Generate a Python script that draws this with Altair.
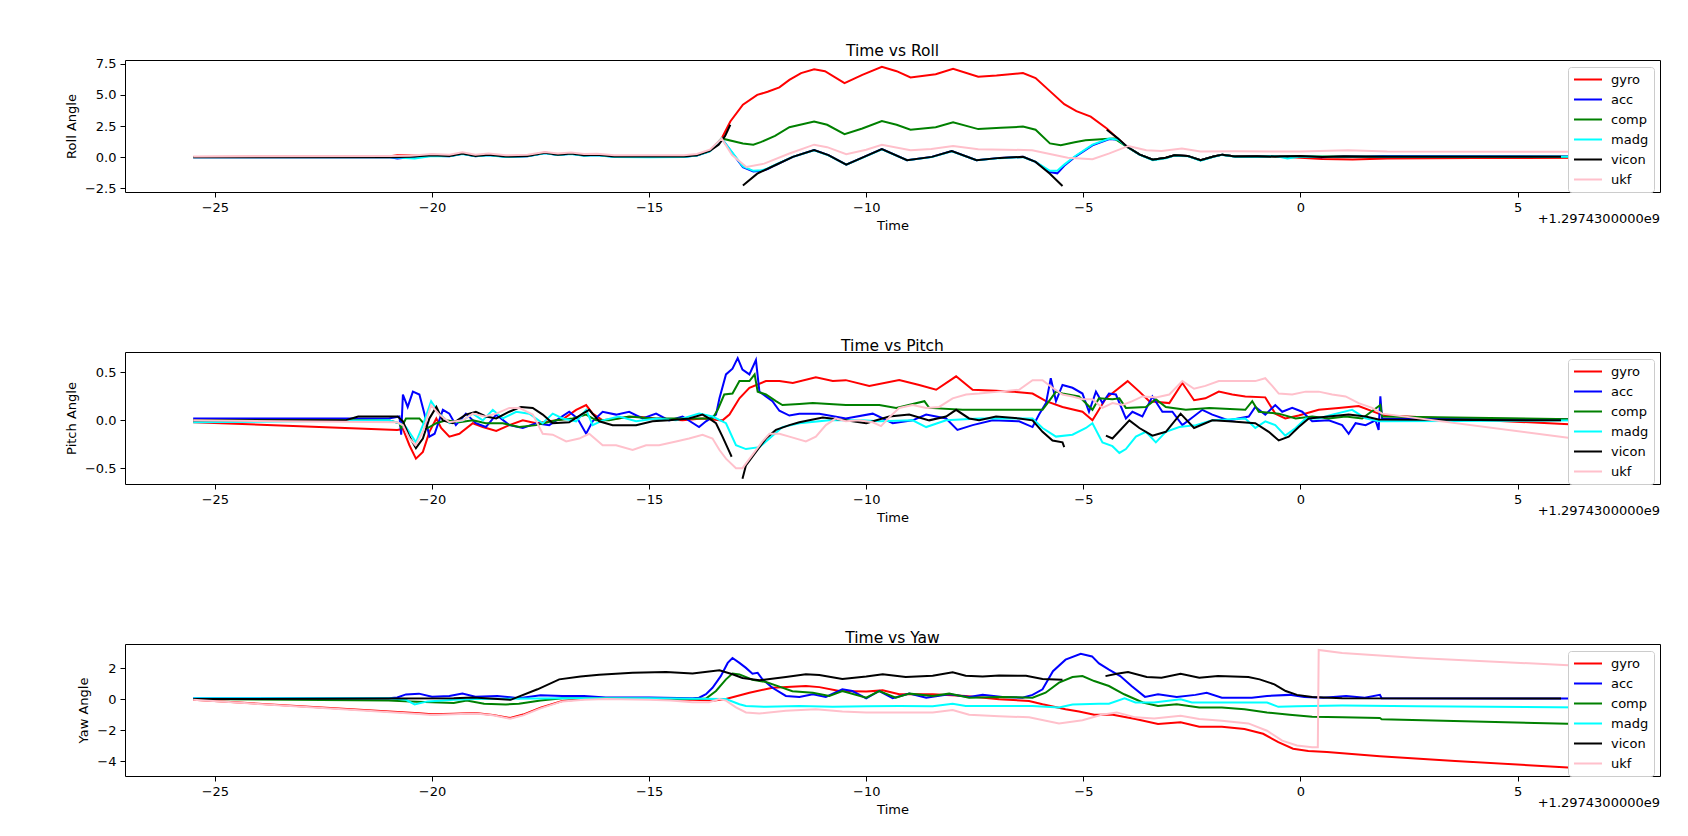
import altair as alt
import pandas as pd

FONT = "DejaVu Sans"
SERIES = ["gyro", "acc", "comp", "madg", "vicon", "ukf"]
COLORS = ["red", "blue", "green", "cyan", "black", "pink"]
X_TICKS = [-25, -20, -15, -10, -5, 0, 5]
X_DOMAIN = [-27.07, 8.28]
OFFSET_LABEL = "+1.2974300000e9"

ROLL_TICKS = [-2.5, 0.0, 2.5, 5.0, 7.5]
ROLL_DOMAIN = [-2.8, 7.8]
PITCH_TICKS = [-0.5, 0.0, 0.5]
PITCH_DOMAIN = [-0.665, 0.714]
YAW_TICKS = [-4, -2, 0, 2]
YAW_DOMAIN = [-4.96, 3.55]

# ---------------- ROLL ----------------
ROLL_GYRO = [[(-25.5, 0.02), (-21.0, 0.05), (-20.8, 0.15), (-20.3, 0.12), (-20.0, 0.2), (-19.6, 0.12), (-19.3, 0.32),
              (-19.0, 0.12), (-18.7, 0.22), (-18.3, 0.07), (-17.8, 0.12), (-17.4, 0.37), (-17.1, 0.22), (-16.8, 0.32),
              (-16.5, 0.17), (-16.2, 0.22), (-15.8, 0.07), (-15.0, 0.07), (-14.2, 0.07), (-13.9, 0.17), (-13.6, 0.5),
              (-13.33, 1.5), (-13.13, 2.86), (-12.84, 4.21), (-12.51, 5.0), (-12.27, 5.25), (-12.0, 5.6), (-11.77, 6.2),
              (-11.5, 6.75), (-11.2, 7.05), (-10.95, 6.9), (-10.5, 5.95), (-10.09, 6.6), (-9.64, 7.25), (-9.3, 6.9),
              (-8.98, 6.4), (-8.4, 6.65), (-8.0, 7.1), (-7.42, 6.45), (-7.0, 6.55), (-6.39, 6.75), (-6.1, 6.35),
              (-5.77, 5.3), (-5.44, 4.25), (-5.16, 3.7), (-4.83, 3.25), (-4.46, 2.3), (-4.21, 1.5), (-4.0, 0.85),
              (-3.7, 0.2), (-3.4, -0.2), (-3.1, -0.05), (-2.9, 0.15), (-2.6, 0.1), (-2.3, -0.25), (-2.0, 0.05),
              (-1.8, 0.2), (-1.5, 0.05), (-1.0, 0.05), (-0.5, 0.05), (0.0, -0.05), (0.5, -0.15), (1.2, -0.2),
              (2.0, -0.1), (4.0, -0.07), (6.65, -0.05)]]
ROLL_ACC = [[(-25.5, 0.0), (-21.0, 0.0), (-20.8, -0.1), (-20.5, 0.0), (-20.0, 0.12), (-19.6, 0.08), (-19.3, 0.28),
             (-19.0, 0.08), (-18.7, 0.18), (-18.3, 0.03), (-17.8, 0.08), (-17.4, 0.33), (-17.1, 0.18), (-16.8, 0.28),
             (-16.5, 0.13), (-16.2, 0.18), (-15.8, 0.03), (-15.0, 0.02), (-14.2, 0.03), (-13.9, 0.13), (-13.6, 0.48),
             (-13.33, 1.5), (-13.1, 0.4), (-12.84, -0.8), (-12.6, -1.15), (-12.4, -1.1), (-12.27, -0.95),
             (-12.1, -0.65), (-11.69, 0.02), (-11.2, 0.56), (-10.87, 0.16), (-10.46, -0.6), (-10.05, 0.02),
             (-9.64, 0.64), (-9.06, -0.25), (-8.49, 0.02), (-8.03, 0.48), (-7.46, -0.25), (-6.92, -0.06),
             (-6.39, 0.02), (-6.1, -0.38), (-5.77, -1.2), (-5.6, -1.3), (-5.44, -0.7), (-5.2, 0.0), (-4.79, 0.95),
             (-4.4, 1.45), (-4.2, 1.4), (-4.0, 0.85), (-3.7, 0.2), (-3.4, -0.2), (-3.1, -0.05), (-2.9, 0.15),
             (-2.6, 0.1), (-2.3, -0.25), (-2.0, 0.05), (-1.8, 0.2), (-1.5, 0.05), (-1.0, 0.08), (-0.5, 0.05),
             (0.0, 0.08), (0.5, 0.0), (1.0, 0.08), (1.5, 0.05), (1.9, 0.1), (6.65, 0.05)]]
ROLL_COMP = [[(-25.5, 0.02), (-21.0, 0.02), (-20.5, 0.05), (-20.0, 0.15), (-19.6, 0.1), (-19.3, 0.3), (-19.0, 0.1),
              (-18.7, 0.2), (-18.3, 0.05), (-17.8, 0.1), (-17.4, 0.35), (-17.1, 0.2), (-16.8, 0.3), (-16.5, 0.15),
              (-16.2, 0.2), (-15.8, 0.05), (-15.0, 0.05), (-14.2, 0.05), (-13.9, 0.15), (-13.6, 0.5), (-13.33, 1.5),
              (-12.84, 1.1), (-12.6, 1.0), (-12.43, 1.2), (-12.1, 1.7), (-11.77, 2.4), (-11.2, 2.85), (-10.9, 2.6),
              (-10.5, 1.85), (-10.09, 2.3), (-9.64, 2.9), (-9.3, 2.6), (-8.98, 2.2), (-8.4, 2.4), (-8.0, 2.8),
              (-7.42, 2.25), (-6.9, 2.35), (-6.39, 2.45), (-6.1, 2.2), (-5.77, 1.1), (-5.52, 0.95), (-5.2, 1.2),
              (-4.95, 1.35), (-4.5, 1.45), (-4.29, 1.5), (-4.0, 0.85), (-3.7, 0.2), (-3.4, -0.2), (-3.1, -0.05),
              (-2.9, 0.15), (-2.6, 0.1), (-2.3, -0.25), (-2.0, 0.05), (-1.8, 0.2), (-1.5, 0.05), (-1.0, 0.05),
              (0.0, 0.05), (1.0, 0.05), (2.0, 0.04), (6.65, 0.04)]]
ROLL_MADG = [[(-25.5, 0.0), (-21.0, 0.0), (-20.7, -0.05), (-20.4, -0.1), (-20.0, 0.1), (-19.6, 0.08), (-19.3, 0.26),
              (-19.0, 0.08), (-18.7, 0.16), (-18.3, 0.02), (-17.8, 0.08), (-17.4, 0.32), (-17.1, 0.18), (-16.8, 0.26),
              (-16.5, 0.12), (-16.2, 0.16), (-15.8, 0.02), (-15.0, 0.0), (-14.2, 0.02), (-13.9, 0.12), (-13.6, 0.46),
              (-13.33, 1.5), (-13.1, 0.45), (-12.84, -0.75), (-12.6, -1.1), (-12.4, -1.05), (-12.27, -0.9),
              (-12.1, -0.62), (-11.69, 0.02), (-11.2, 0.54), (-10.87, 0.14), (-10.46, -0.6), (-10.05, 0.0),
              (-9.64, 0.62), (-9.06, -0.25), (-8.49, 0.0), (-8.03, 0.46), (-7.46, -0.25), (-6.92, -0.08),
              (-6.39, 0.0), (-6.1, -0.38), (-5.77, -1.1), (-5.6, -1.1), (-5.44, -0.6), (-5.2, 0.05), (-4.79, 1.0),
              (-4.4, 1.5), (-4.2, 1.4), (-4.0, 0.85), (-3.7, 0.18), (-3.4, -0.25), (-3.1, -0.1), (-2.9, 0.12),
              (-2.6, 0.08), (-2.3, -0.28), (-2.0, 0.02), (-1.8, 0.18), (-1.5, 0.03), (-1.0, 0.02), (-0.6, 0.1),
              (-0.3, -0.1), (0.0, 0.05), (1.0, 0.02), (2.0, 0.03), (6.65, 0.04)]]
ROLL_VICON = [[(-25.5, 0.0), (-21.0, 0.0), (-20.5, 0.03), (-20.0, 0.15), (-19.6, 0.1), (-19.3, 0.3), (-19.0, 0.1),
               (-18.7, 0.2), (-18.3, 0.05), (-17.8, 0.1), (-17.4, 0.35), (-17.1, 0.2), (-16.8, 0.3), (-16.5, 0.15),
               (-16.2, 0.2), (-15.8, 0.05), (-15.0, 0.05), (-14.2, 0.05), (-13.9, 0.15), (-13.6, 0.5), (-13.4, 1.0),
               (-13.25, 1.7), (-13.13, 2.6)],
              [(-12.84, -2.27), (-12.51, -1.33), (-12.1, -0.65), (-11.69, 0.02), (-11.2, 0.56), (-10.87, 0.16),
               (-10.46, -0.6), (-10.05, 0.02), (-9.64, 0.64), (-9.06, -0.25), (-8.49, 0.02), (-8.03, 0.48),
               (-7.46, -0.25), (-6.92, -0.06), (-6.39, 0.02), (-6.1, -0.38), (-5.77, -1.33), (-5.48, -2.32)],
              [(-4.46, 2.2), (-4.2, 1.5), (-4.0, 0.85), (-3.7, 0.2), (-3.4, -0.2), (-3.1, -0.05), (-2.9, 0.15),
               (-2.6, 0.1), (-2.3, -0.25), (-2.0, 0.05), (-1.8, 0.2), (-1.5, 0.05), (-1.0, 0.08), (-0.5, 0.05),
               (0.0, 0.1), (0.5, 0.02), (1.0, 0.05), (2.0, 0.03), (6.0, 0.03)]]
ROLL_UKF = [[(-25.5, 0.05), (-21.0, 0.1), (-20.5, 0.12), (-20.0, 0.25), (-19.6, 0.2), (-19.3, 0.4), (-19.0, 0.2),
             (-18.7, 0.3), (-18.3, 0.15), (-17.8, 0.2), (-17.4, 0.42), (-17.1, 0.3), (-16.8, 0.38), (-16.5, 0.25),
             (-16.2, 0.28), (-15.8, 0.15), (-15.0, 0.15), (-14.2, 0.15), (-13.9, 0.25), (-13.6, 0.6), (-13.33, 1.5),
             (-13.09, 0.16), (-12.76, -0.79), (-12.35, -0.52), (-11.77, 0.29), (-11.2, 1.0), (-10.9, 0.8),
             (-10.46, 0.24), (-10.0, 0.6), (-9.64, 1.0), (-8.98, 0.56), (-8.5, 0.65), (-8.0, 0.9), (-7.42, 0.64),
             (-6.8, 0.6), (-6.18, 0.56), (-5.36, -0.05), (-4.79, -0.17), (-4.4, 0.3), (-3.96, 0.9), (-3.55, 0.55),
             (-3.2, 0.5), (-2.73, 0.7), (-2.3, 0.45), (-1.5, 0.48), (-0.5, 0.45), (0.0, 0.45), (1.1, 0.56),
             (2.0, 0.45), (6.65, 0.43)]]

# ---------------- PITCH ----------------
PITCH_GYRO = [[(-25.5, -0.02), (-20.8, -0.1), (-20.67, -0.09), (-20.52, -0.26), (-20.37, -0.4), (-20.21, -0.33),
               (-20.06, -0.12), (-19.9, 0.02), (-19.79, -0.08), (-19.6, -0.17), (-19.37, -0.14), (-19.06, -0.03),
               (-18.83, -0.07), (-18.52, -0.11), (-18.22, -0.05), (-17.91, 0.0), (-17.6, -0.03), (-17.3, -0.01),
               (-16.99, 0.01), (-16.68, 0.11), (-16.45, 0.16), (-16.3, 0.07), (-16.07, 0.0), (-15.76, 0.02),
               (-15.3, 0.04), (-14.84, 0.02), (-14.23, 0.0), (-13.77, 0.02), (-13.31, 0.0), (-13.15, 0.06),
               (-12.92, 0.23), (-12.69, 0.34), (-12.31, 0.41), (-12.0, 0.41), (-11.69, 0.39), (-11.16, 0.45),
               (-10.77, 0.41), (-10.47, 0.42), (-9.93, 0.36), (-9.24, 0.42), (-8.78, 0.37), (-8.39, 0.32),
               (-7.93, 0.46), (-7.55, 0.32), (-7.01, 0.31), (-6.63, 0.3), (-6.17, 0.28), (-5.86, 0.2), (-5.48, 0.14),
               (-5.02, 0.09), (-4.79, 0.0), (-4.48, 0.23), (-3.98, 0.41), (-3.71, 0.3), (-3.48, 0.2), (-3.02, 0.18),
               (-2.72, 0.39), (-2.45, 0.21), (-2.19, 0.23), (-1.88, 0.3), (-1.57, 0.27), (-1.27, 0.25),
               (-0.81, 0.24), (-0.58, 0.07), (-0.35, 0.02), (-0.04, 0.05), (0.42, 0.11), (0.88, 0.13), (1.34, 0.15),
               (1.8, 0.07), (1.96, 0.05), (6.65, -0.05)]]
PITCH_ACC = [[(-25.5, 0.02), (-23.0, 0.02), (-21.0, 0.02), (-20.75, 0.04), (-20.71, -0.15), (-20.67, 0.27),
              (-20.56, 0.14), (-20.44, 0.3), (-20.29, 0.27), (-20.17, 0.06), (-20.06, -0.17), (-19.94, -0.14),
              (-19.75, 0.11), (-19.6, 0.07), (-19.45, -0.05), (-19.22, 0.07), (-18.99, -0.03), (-18.76, -0.07),
              (-18.52, 0.06), (-18.22, -0.05), (-17.91, -0.08), (-17.6, -0.03), (-17.3, -0.05), (-17.14, 0.0),
              (-16.84, 0.09), (-16.65, 0.02), (-16.45, -0.14), (-16.3, -0.01), (-16.07, 0.09), (-15.76, 0.06),
              (-15.46, 0.09), (-15.15, 0.02), (-14.84, 0.07), (-14.54, 0.0), (-14.23, 0.04), (-13.85, -0.07),
              (-13.69, -0.01), (-13.46, 0.06), (-13.38, 0.23), (-13.23, 0.48), (-13.08, 0.54), (-12.96, 0.65),
              (-12.85, 0.53), (-12.69, 0.48), (-12.54, 0.63), (-12.46, 0.3), (-12.31, 0.25), (-12.16, 0.2),
              (-12.0, 0.1), (-11.77, 0.05), (-11.54, 0.07), (-11.08, 0.07), (-10.47, 0.02), (-9.85, 0.07),
              (-9.39, -0.03), (-8.93, 0.0), (-8.62, 0.06), (-8.16, 0.02), (-7.9, -0.1), (-7.55, -0.05),
              (-7.09, 0.0), (-6.48, -0.01), (-6.17, -0.07), (-6.02, 0.06), (-5.86, 0.18), (-5.75, 0.44),
              (-5.63, 0.2), (-5.48, 0.37), (-5.25, 0.34), (-5.02, 0.28), (-4.87, 0.09), (-4.71, 0.3), (-4.56, 0.18),
              (-4.41, 0.28), (-4.25, 0.27), (-4.02, 0.02), (-3.87, 0.09), (-3.64, 0.04), (-3.41, 0.25),
              (-3.18, 0.09), (-2.95, 0.09), (-2.72, -0.05), (-2.49, 0.03), (-2.26, 0.11), (-2.03, 0.06),
              (-1.65, 0.0), (-1.19, 0.04), (-1.04, 0.14), (-0.81, 0.06), (-0.58, 0.16), (-0.42, 0.09),
              (-0.19, 0.13), (0.04, 0.09), (0.27, -0.01), (0.65, 0.0), (0.96, -0.05), (1.11, -0.14), (1.27, -0.03),
              (1.5, -0.05), (1.73, 0.0), (1.8, -0.1), (1.84, 0.25), (1.88, 0.02), (6.65, 0.01)]]
PITCH_COMP = [[(-25.5, 0.0), (-21.0, 0.0), (-20.75, -0.03), (-20.71, -0.08), (-20.6, 0.02), (-20.29, 0.02),
               (-20.1, -0.08), (-19.9, -0.03), (-19.68, 0.0), (-19.37, -0.02), (-19.06, 0.0), (-18.76, -0.03),
               (-18.37, -0.03), (-17.99, -0.07), (-17.6, -0.05), (-17.14, 0.0), (-16.76, 0.02), (-16.45, 0.06),
               (-16.22, 0.0), (-15.92, 0.0), (-15.46, 0.04), (-14.92, 0.02), (-14.15, 0.02), (-13.54, 0.02),
               (-13.42, 0.11), (-13.27, 0.27), (-13.08, 0.28), (-12.92, 0.41), (-12.69, 0.41), (-12.57, 0.48),
               (-12.5, 0.3), (-12.31, 0.27), (-12.08, 0.2), (-11.93, 0.16), (-11.54, 0.17), (-11.23, 0.18),
               (-10.47, 0.16), (-9.7, 0.16), (-9.31, 0.13), (-8.66, 0.2), (-8.55, 0.13), (-7.78, 0.11),
               (-7.01, 0.11), (-6.25, 0.11), (-5.94, 0.11), (-5.79, 0.2), (-5.63, 0.3), (-5.48, 0.28), (-5.1, 0.25),
               (-4.79, 0.11), (-4.64, 0.23), (-4.33, 0.22), (-4.17, 0.23), (-4.02, 0.13), (-3.56, 0.14),
               (-3.33, 0.22), (-3.1, 0.14), (-2.64, 0.11), (-2.1, 0.13), (-1.27, 0.11), (-1.11, 0.2), (-0.96, 0.09),
               (-0.5, 0.07), (-0.11, 0.02), (0.27, 0.04), (0.65, 0.02), (1.04, 0.04), (1.42, 0.02), (1.84, 0.16),
               (1.88, 0.04), (6.65, 0.01)]]
PITCH_MADG = [[(-25.5, -0.02), (-21.0, 0.0), (-20.75, -0.03), (-20.6, -0.07), (-20.37, -0.23), (-20.21, -0.05),
               (-20.02, 0.2), (-19.83, 0.07), (-19.6, -0.03), (-19.29, 0.0), (-19.06, 0.07), (-18.83, 0.0),
               (-18.6, 0.11), (-18.37, 0.02), (-18.06, 0.09), (-17.76, 0.07), (-17.45, -0.03), (-17.22, 0.07),
               (-16.99, 0.02), (-16.68, -0.01), (-16.45, 0.11), (-16.3, -0.05), (-16.07, 0.0), (-15.69, 0.04),
               (-15.3, -0.01), (-14.84, 0.02), (-14.38, 0.0), (-13.85, 0.07), (-13.54, 0.04), (-13.23, -0.03),
               (-13.0, -0.26), (-12.77, -0.3), (-12.46, -0.28), (-12.23, -0.19), (-11.93, -0.07), (-11.54, -0.03),
               (-10.85, 0.0), (-10.08, 0.0), (-9.7, -0.01), (-8.93, 0.0), (-8.62, -0.07), (-8.16, 0.0), (-7.4, 0.02),
               (-6.63, 0.02), (-6.17, 0.02), (-5.94, -0.08), (-5.63, -0.17), (-5.25, -0.15), (-4.94, -0.08),
               (-4.79, -0.03), (-4.56, -0.23), (-4.33, -0.27), (-4.17, -0.34), (-4.02, -0.3), (-3.79, -0.17),
               (-3.56, -0.12), (-3.33, -0.23), (-3.1, -0.12), (-2.79, -0.07), (-2.41, -0.05), (-2.03, 0.0),
               (-1.27, 0.02), (-1.04, -0.08), (-0.81, -0.01), (-0.58, -0.05), (-0.35, -0.16), (-0.11, -0.08),
               (0.12, 0.02), (0.42, 0.02), (0.73, 0.06), (1.19, 0.11), (1.5, 0.02), (1.8, -0.01), (6.65, 0.0)]]
PITCH_VICON = [[(-25.5, 0.0), (-22.0, 0.0), (-21.7, 0.04), (-20.79, 0.04), (-20.67, -0.01), (-20.52, -0.17),
                (-20.37, -0.29), (-20.21, -0.19), (-20.06, 0.02), (-19.9, 0.14), (-19.75, 0.0), (-19.52, -0.03),
                (-19.22, 0.06), (-18.99, 0.09), (-18.76, 0.04), (-18.52, 0.02), (-18.22, 0.09), (-17.95, 0.14),
                (-17.68, 0.13), (-17.45, 0.06), (-17.22, -0.03), (-16.84, -0.02), (-16.53, 0.07), (-16.38, 0.11),
                (-16.15, -0.01), (-15.84, -0.05), (-15.3, -0.05), (-14.92, -0.01), (-14.54, 0.0), (-14.08, 0.02),
                (-13.77, 0.06), (-13.62, 0.02), (-13.46, -0.03), (-13.31, -0.17), (-13.15, -0.33), (-13.1, -0.38)],
               [(-12.85, -0.61), (-12.77, -0.47), (-12.54, -0.33), (-12.31, -0.19), (-12.08, -0.1), (-11.77, -0.05),
                (-11.54, -0.02), (-11.0, 0.03), (-10.47, 0.0), (-10.0, -0.03), (-9.47, 0.04), (-9.01, 0.06),
                (-8.55, 0.0), (-8.16, 0.04), (-7.93, 0.11), (-7.63, 0.02), (-7.4, 0.0), (-7.01, 0.04), (-6.48, 0.02),
                (-6.17, 0.0), (-5.94, -0.12), (-5.71, -0.21), (-5.48, -0.23), (-5.44, -0.28)],
               [(-4.48, -0.16), (-4.33, -0.19), (-3.94, 0.0), (-3.71, -0.08), (-3.41, -0.16), (-3.1, -0.12),
                (-2.76, 0.07), (-2.45, -0.08), (-2.03, 0.0), (-1.65, -0.01), (-1.04, -0.03), (-0.73, -0.12),
                (-0.5, -0.21), (-0.27, -0.17), (-0.04, -0.07), (0.19, 0.02), (0.65, 0.04), (1.11, 0.06),
                (1.5, 0.04), (1.8, 0.01), (6.0, 0.0)]]
PITCH_UKF = [[(-25.5, 0.0), (-20.8, -0.02), (-20.67, -0.05), (-20.52, -0.19), (-20.38, -0.26), (-20.21, -0.12),
              (-20.02, 0.16), (-19.83, 0.06), (-19.6, -0.02), (-19.29, 0.0), (-19.06, 0.07), (-18.79, 0.04),
              (-18.52, 0.07), (-18.22, 0.13), (-17.99, 0.13), (-17.68, 0.06), (-17.45, -0.14), (-17.22, -0.15),
              (-16.91, -0.22), (-16.61, -0.19), (-16.38, -0.14), (-16.07, -0.26), (-15.76, -0.26), (-15.38, -0.31),
              (-15.07, -0.26), (-14.77, -0.26), (-14.38, -0.22), (-14.08, -0.19), (-13.77, -0.15), (-13.54, -0.19),
              (-13.38, -0.31), (-13.23, -0.4), (-13.0, -0.5), (-12.85, -0.5), (-12.62, -0.36), (-12.39, -0.22),
              (-12.23, -0.14), (-12.0, -0.14), (-11.77, -0.17), (-11.39, -0.22), (-11.16, -0.17), (-10.93, -0.05),
              (-10.7, 0.02), (-10.47, -0.01), (-10.16, 0.0), (-9.85, -0.02), (-9.66, -0.06), (-9.45, 0.04),
              (-9.24, 0.13), (-8.93, 0.16), (-8.62, 0.13), (-8.32, 0.14), (-8.01, 0.23), (-7.7, 0.27), (-7.4, 0.28),
              (-6.94, 0.3), (-6.48, 0.32), (-6.17, 0.42), (-5.94, 0.42), (-5.71, 0.34), (-5.48, 0.27),
              (-5.25, 0.25), (-5.02, 0.22), (-4.79, 0.22), (-4.56, 0.13), (-4.33, 0.18), (-4.1, 0.16),
              (-3.87, 0.2), (-3.64, 0.25), (-3.33, 0.24), (-3.02, 0.27), (-2.72, 0.41), (-2.45, 0.33),
              (-2.19, 0.36), (-1.88, 0.41), (-1.42, 0.41), (-1.04, 0.41), (-0.81, 0.44), (-0.65, 0.36),
              (-0.5, 0.28), (-0.19, 0.27), (0.12, 0.3), (0.42, 0.3), (0.73, 0.27), (1.04, 0.25), (1.34, 0.18),
              (1.65, 0.13), (1.88, 0.07), (6.65, -0.21)]]

# ---------------- YAW ----------------
YAW_GYRO = [[(-25.5, -0.05), (-20.3, -0.92), (-20.0, -0.98), (-19.5, -0.95), (-19.0, -0.9), (-18.6, -1.02),
             (-18.2, -1.22), (-17.9, -1.0), (-17.5, -0.55), (-17.0, -0.12), (-16.5, 0.0), (-16.0, 0.05),
             (-15.0, 0.0), (-14.0, -0.05), (-13.5, -0.1), (-13.23, 0.0), (-12.69, 0.41), (-12.16, 0.73),
             (-11.39, 0.84), (-11.08, 0.77), (-10.62, 0.52), (-10.0, 0.48), (-9.62, 0.56), (-9.24, 0.31),
             (-8.47, 0.31), (-7.71, 0.2), (-6.94, -0.01), (-6.25, -0.12), (-5.94, -0.33), (-5.41, -0.65),
             (-5.1, -0.8), (-4.75, -1.01), (-4.32, -1.01), (-3.8, -1.29), (-3.28, -1.61), (-2.76, -1.5),
             (-2.33, -1.78), (-1.81, -1.78), (-1.29, -1.93), (-0.86, -2.24), (-0.51, -2.78), (-0.17, -3.2),
             (0.18, -3.35), (0.61, -3.42), (1.83, -3.69), (3.56, -3.99), (6.16, -4.41), (6.65, -4.48)]]
YAW_ACC = [[(-25.5, 0.05), (-21.0, 0.05), (-20.8, 0.1), (-20.6, 0.3), (-20.3, 0.35), (-20.0, 0.15), (-19.6, 0.2),
            (-19.3, 0.35), (-19.0, 0.15), (-18.5, 0.2), (-18.0, 0.05), (-17.5, 0.25), (-17.0, 0.2), (-16.5, 0.2),
            (-16.0, 0.1), (-15.0, 0.1), (-14.0, 0.05), (-13.85, 0.09), (-13.69, 0.31), (-13.54, 0.73),
            (-13.35, 1.48), (-13.19, 2.33), (-13.08, 2.65), (-12.92, 2.33), (-12.77, 2.01), (-12.62, 1.63),
            (-12.5, 1.69), (-12.39, 1.27), (-12.16, 0.73), (-11.85, 0.2), (-11.54, 0.14), (-11.23, 0.31),
            (-10.93, 0.14), (-10.55, 0.63), (-10.32, 0.52), (-10.0, 0.05), (-9.7, 0.52), (-9.39, 0.05),
            (-9.01, 0.35), (-8.62, 0.09), (-8.09, 0.31), (-7.63, 0.14), (-7.32, 0.27), (-6.86, 0.14),
            (-6.4, 0.09), (-6.17, 0.27), (-5.94, 0.63), (-5.7, 1.8), (-5.41, 2.54), (-5.06, 2.92), (-4.8, 2.75),
            (-4.64, 2.3), (-4.41, 1.9), (-4.15, 1.48), (-3.89, 0.84), (-3.58, 0.14), (-3.28, 0.31),
            (-2.85, 0.14), (-2.42, 0.27), (-2.16, 0.41), (-1.81, 0.09), (-1.12, 0.09), (-0.77, 0.2),
            (-0.25, 0.27), (0.09, 0.14), (0.53, 0.09), (1.05, 0.2), (1.48, 0.09), (1.83, 0.27), (1.87, 0.05),
            (6.65, 0.04)]]
YAW_COMP = [[(-25.5, 0.0), (-21.0, -0.1), (-20.5, -0.15), (-20.0, -0.2), (-19.5, -0.25), (-19.2, -0.1),
             (-18.8, -0.3), (-18.3, -0.35), (-18.0, -0.3), (-17.5, -0.1), (-17.0, 0.05), (-16.0, 0.05),
             (-14.0, 0.0), (-13.69, 0.03), (-13.46, 0.52), (-13.23, 1.27), (-13.08, 1.65), (-12.92, 1.59),
             (-12.62, 1.25), (-12.31, 1.1), (-12.0, 0.8), (-11.7, 0.5), (-11.23, 0.41), (-10.85, 0.2),
             (-10.55, 0.52), (-10.0, 0.09), (-9.7, 0.52), (-9.32, 0.09), (-9.01, 0.35), (-8.47, 0.2),
             (-8.09, 0.35), (-7.63, 0.09), (-6.94, 0.14), (-6.17, 0.09), (-5.87, 0.41), (-5.56, 1.06),
             (-5.25, 1.42), (-5.02, 1.48), (-4.75, 1.16), (-4.41, 0.84), (-4.06, 0.31), (-3.63, -0.22),
             (-3.28, -0.44), (-2.85, -0.33), (-2.33, -0.54), (-1.81, -0.54), (-1.29, -0.65), (-0.77, -0.86),
             (-0.25, -1.01), (0.27, -1.14), (0.96, -1.18), (1.83, -1.22), (1.87, -1.3), (6.65, -1.62)]]
YAW_MADG = [[(-25.5, 0.05), (-21.0, 0.05), (-20.6, -0.05), (-20.4, -0.35), (-20.1, -0.15), (-19.5, -0.05),
             (-19.0, 0.0), (-17.0, 0.05), (-15.0, 0.05), (-13.23, 0.0), (-12.92, -0.33), (-12.77, -0.44),
             (-12.31, -0.5), (-11.54, -0.44), (-10.77, -0.5), (-10.0, -0.46), (-9.24, -0.44), (-8.47, -0.46),
             (-8.01, -0.3), (-7.71, -0.44), (-6.94, -0.44), (-6.17, -0.44), (-5.56, -0.54), (-5.25, -0.35),
             (-4.64, -0.3), (-4.41, -0.3), (-4.05, 0.05), (-3.8, -0.22), (-3.37, -0.22), (-2.76, -0.01),
             (-2.5, -0.22), (-1.64, -0.22), (-0.77, -0.22), (-0.51, -0.5), (-0.08, -0.46), (0.96, -0.42),
             (2.69, -0.46), (6.63, -0.54)]]
YAW_VICON = [[(-25.5, 0.0), (-19.5, 0.05), (-19.05, 0.1), (-18.19, -0.05), (-17.57, 0.63), (-17.07, 1.27),
              (-16.58, 1.45), (-16.15, 1.57), (-15.38, 1.7), (-14.61, 1.75), (-14.0, 1.65), (-13.38, 1.85),
              (-13.08, 1.6), (-12.85, 1.36), (-12.46, 1.21), (-11.85, 1.42), (-11.39, 1.6), (-11.08, 1.55),
              (-10.55, 1.29), (-10.0, 1.45), (-9.62, 1.6), (-9.09, 1.42), (-8.47, 1.5), (-8.01, 1.72),
              (-7.71, 1.5), (-7.32, 1.45), (-6.94, 1.52), (-6.32, 1.5), (-5.94, 1.29), (-5.48, 1.25)],
             [(-4.49, 1.48), (-4.23, 1.63), (-3.97, 1.74), (-3.54, 1.42), (-3.2, 1.38), (-2.76, 1.63),
              (-2.33, 1.38), (-1.9, 1.48), (-1.2, 1.42), (-0.94, 1.27), (-0.6, 0.95), (-0.34, 0.52),
              (-0.08, 0.27), (0.27, 0.14), (0.96, 0.05), (6.0, 0.03)]]
YAW_UKF = [[(-25.5, -0.05), (-20.3, -0.97), (-20.0, -1.02), (-19.5, -0.98), (-19.0, -0.93), (-18.6, -1.05),
            (-18.2, -1.27), (-17.9, -1.05), (-17.5, -0.6), (-17.0, -0.15), (-16.5, -0.05), (-16.0, 0.0),
            (-15.0, -0.05), (-14.5, -0.1), (-14.0, -0.2), (-13.62, -0.2), (-13.38, 0.0), (-13.23, -0.1),
            (-13.0, -0.54), (-12.77, -0.86), (-12.46, -0.93), (-11.85, -0.76), (-11.16, -0.65), (-10.55, -0.8),
            (-10.0, -0.86), (-9.24, -0.86), (-8.47, -0.86), (-8.01, -0.71), (-7.63, -1.01), (-6.94, -1.1),
            (-6.25, -1.18), (-5.56, -1.57), (-5.02, -1.36), (-4.58, -1.01), (-4.23, -0.86), (-3.8, -1.18),
            (-3.37, -1.25), (-2.76, -1.08), (-2.33, -1.29), (-1.81, -1.4), (-1.2, -1.57), (-0.77, -2.04),
            (-0.42, -2.68), (-0.08, -2.99), (0.27, -3.1), (0.4, -3.1), (0.42, 3.17), (0.96, 2.97), (2.69, 2.65),
            (6.63, 2.12)]]

PANELS = {
    "roll": [ROLL_GYRO, ROLL_ACC, ROLL_COMP, ROLL_MADG, ROLL_VICON, ROLL_UKF],
    "pitch": [PITCH_GYRO, PITCH_ACC, PITCH_COMP, PITCH_MADG, PITCH_VICON, PITCH_UKF],
    "yaw": [YAW_GYRO, YAW_ACC, YAW_COMP, YAW_MADG, YAW_VICON, YAW_UKF],
}


def build_frame(series_list):
    rows = []
    for k, (name, segments) in enumerate(zip(SERIES, series_list)):
        for s, seg in enumerate(segments):
            for i, (t, v) in enumerate(seg):
                rows.append({"series": name, "key": f"{k}_{name}_{s}", "idx": i, "t": t, "v": v})
    return pd.DataFrame(rows)


W, H = 1535, 132


def panel(key, title, ylabel, ydomain, yticks, yfmt):
    df = build_frame(PANELS[key])
    lines = alt.Chart(df).mark_line(strokeWidth=2).encode(
        x=alt.X("t:Q", scale=alt.Scale(domain=X_DOMAIN, nice=False, zero=False),
                axis=alt.Axis(values=X_TICKS, format="d", title="Time")),
        y=alt.Y("v:Q", scale=alt.Scale(domain=ydomain, nice=False, zero=False),
                axis=alt.Axis(values=yticks, format=yfmt, title=ylabel)),
        color=alt.Color("series:N", scale=alt.Scale(domain=SERIES, range=COLORS),
                        legend=alt.Legend(title=None, orient="none", legendX=1443, legendY=7)),
        detail="key:N",
        order="idx:Q",
    )
    off = alt.Chart(pd.DataFrame({"label": [OFFSET_LABEL]})).mark_text(
        align="right", baseline="middle", fontSize=13, font=FONT, color="black"
    ).encode(x=alt.value(W), y=alt.value(H + 27), text="label:N")
    return alt.layer(lines, off, title=alt.Title(title)).properties(width=W, height=H)


chart = alt.vconcat(
    panel("roll", "Time vs Roll", "Roll Angle", ROLL_DOMAIN, ROLL_TICKS, ".1f"),
    panel("pitch", "Time vs Pitch", "Pitch Angle", PITCH_DOMAIN, PITCH_TICKS, ".1f"),
    panel("yaw", "Time vs Yaw", "Yaw Angle", YAW_DOMAIN, YAW_TICKS, "d"),
    spacing=160,
    bounds="flush",
).resolve_scale(color="independent").resolve_legend(color="independent").properties(
    padding={"left": 56, "top": 35, "right": 5, "bottom": 5}
).configure_view(
    stroke="black", strokeWidth=1
).configure_axis(
    grid=False, domain=False, labelFont=FONT, titleFont=FONT, labelFontSize=13, titleFontSize=13,
    labelColor="black", titleColor="black", titleFontWeight="normal", tickColor="black", tickSize=5,
    tickWidth=1, labelPadding=4
).configure_axisX(titlePadding=5).configure_axisY(titlePadding=6).configure_title(
    font=FONT, fontSize=15.5, fontWeight="normal", color="black", anchor="middle", frame="group",
    baseline="bottom", offset=-2
).configure_legend(
    fillColor="white", strokeColor="#cccccc", cornerRadius=3, padding=5, symbolType="stroke",
    symbolSize=784, symbolStrokeWidth=2, labelFont=FONT, labelFontSize=13, labelColor="black",
    clipHeight=15, rowPadding=5, labelOffset=8
)

chart.save("out.html", embed_options={"renderer": "svg", "actions": False})
